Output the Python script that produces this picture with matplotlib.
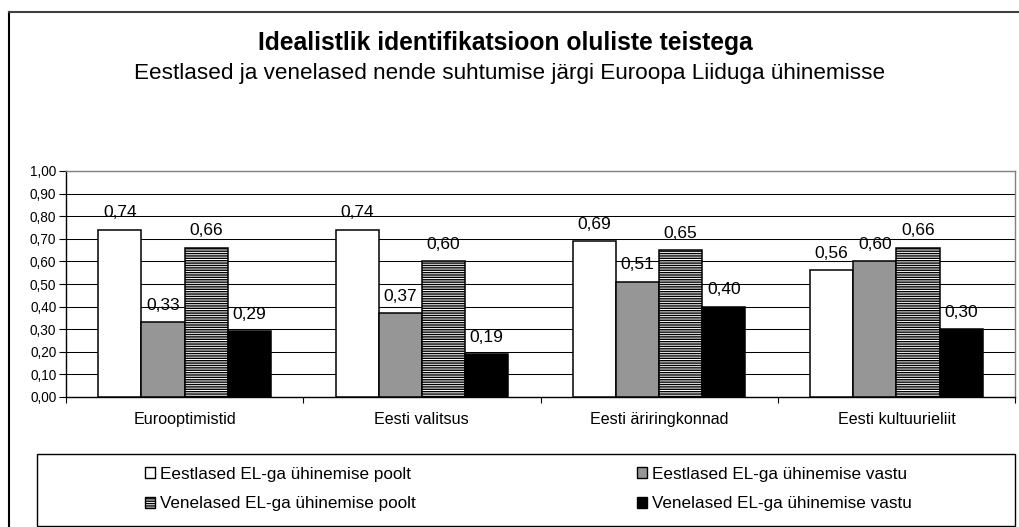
import matplotlib
matplotlib.use("Agg")
import matplotlib.pyplot as plt
from matplotlib.patches import Patch, Rectangle
from matplotlib.lines import Line2D
import numpy as np

plt.rcParams['font.family'] = ['Liberation Sans', 'DejaVu Sans']
plt.rcParams['hatch.linewidth'] = 1.0

# ---- data ----
title = "Idealistlik identifikatsioon oluliste teistega"
subtitle = "Eestlased ja venelased nende suhtumise järgi Euroopa Liiduga ühinemisse"
categories = ["Eurooptimistid", "Eesti valitsus", "Eesti äriringkonnad", "Eesti kultuurieliit"]
series_names = ["Eestlased EL-ga ühinemise poolt", "Eestlased EL-ga ühinemise vastu",
                "Venelased EL-ga ühinemise poolt", "Venelased EL-ga ühinemise vastu"]
est_poolt = [0.74, 0.74, 0.69, 0.56]
est_vastu = [0.33, 0.37, 0.51, 0.60]
ven_poolt = [0.66, 0.60, 0.65, 0.66]
ven_vastu = [0.29, 0.19, 0.40, 0.30]
y_ticks = [0.0, 0.1, 0.2, 0.3, 0.4, 0.5, 0.6, 0.7, 0.8, 0.9, 1.0]
y_tick_labels = ["0,00", "0,10", "0,20", "0,30", "0,40", "0,50", "0,60", "0,70", "0,80", "0,90", "1,00"]

series = [est_poolt, est_vastu, ven_poolt, ven_vastu]
faces = ['white', '#969696', 'white', 'black']
hatches = [None, None, '-------', None]

W, H = 1019, 527
fig = plt.figure(figsize=(W / 100, H / 100), dpi=100)
fig.patch.set_facecolor('white')

def fx(px):
    return px / W

def fy(py):
    return 1 - py / H

# outer frame
fig.add_artist(Line2D([fx(9), fx(9)], [fy(12), fy(540)], color='black', lw=1.5,
                      transform=fig.transFigure))
fig.add_artist(Line2D([fx(9), fx(1030)], [fy(12), fy(12)], color='#404040', lw=1.5,
                      transform=fig.transFigure))

ax = fig.add_axes([fx(66), fy(397), fx(1015) - fx(66), fy(171) - fy(397)])

n = len(series)
w = 1 / (n + 1.5)
x = np.arange(len(categories))
for j, (vals, fc, h) in enumerate(zip(series, faces, hatches)):
    pos = x + (j - (n - 1) / 2) * w
    bars = ax.bar(pos, vals, width=w, color=fc, edgecolor='black', linewidth=1.1,
                  hatch=h, zorder=3)
    for b, v in zip(bars, vals):
        ax.annotate(f"{v:.2f}".replace('.', ','), (b.get_x() + b.get_width() / 2, v),
                    xytext=(0, 9), textcoords='offset points', ha='center',
                    va='baseline', fontsize=12.5, zorder=4)

ax.set_xlim(-0.5, len(categories) - 0.5)
ax.set_ylim(0, 1.0)
ax.set_yticks(y_ticks)
ax.set_yticklabels(y_tick_labels, fontsize=9.8)
ax.tick_params(axis='y', direction='out', length=5, width=0.8, pad=2, color='black')
ax.yaxis.grid(True, color='black', linewidth=0.75)
ax.set_axisbelow(True)

ax.set_xticks(np.arange(len(categories) + 1) - 0.5)
ax.set_xticklabels([])
ax.tick_params(axis='x', which='major', direction='out', length=4, width=0.8)
ax.set_xticks(x, minor=True)
ax.set_xticklabels(categories, minor=True, fontsize=11.6)
ax.tick_params(axis='x', which='minor', length=0, pad=11)

for s in ['left', 'bottom']:
    ax.spines[s].set_color('black')
    ax.spines[s].set_linewidth(1.0)
for s in ['top', 'right']:
    ax.spines[s].set_color('#808080')
    ax.spines[s].set_linewidth(1.0)

# titles
fig.text(fx(505), fy(50), title, ha='center', va='baseline', fontsize=17.7, fontweight='bold')
fig.text(fx(510), fy(79), subtitle, ha='center', va='baseline', fontsize=16.2)

# legend
fig.add_artist(Rectangle((fx(37), fy(526)), fx(1015) - fx(37), fy(454) - fy(526),
                         transform=fig.transFigure, facecolor='white', edgecolor='black',
                         linewidth=1.0))
order = [0, 2, 1, 3]
handles = [Patch(facecolor=faces[i], edgecolor='black', hatch=hatches[i], linewidth=1.0)
           for i in order]
labels = [series_names[i] for i in order]
fig.legend(handles, labels, ncol=2, mode='expand', loc='center',
           bbox_to_anchor=(fx(145), fy(505) - 0.02, fx(912) - fx(145), 0.04 + fy(473) - fy(505)),
           frameon=False, fontsize=12.3, handlelength=0.6, handleheight=0.6,
           handletextpad=0.3, labelspacing=0.85, borderpad=0, borderaxespad=0)

fig.savefig("out.png", dpi=100, facecolor='white')
